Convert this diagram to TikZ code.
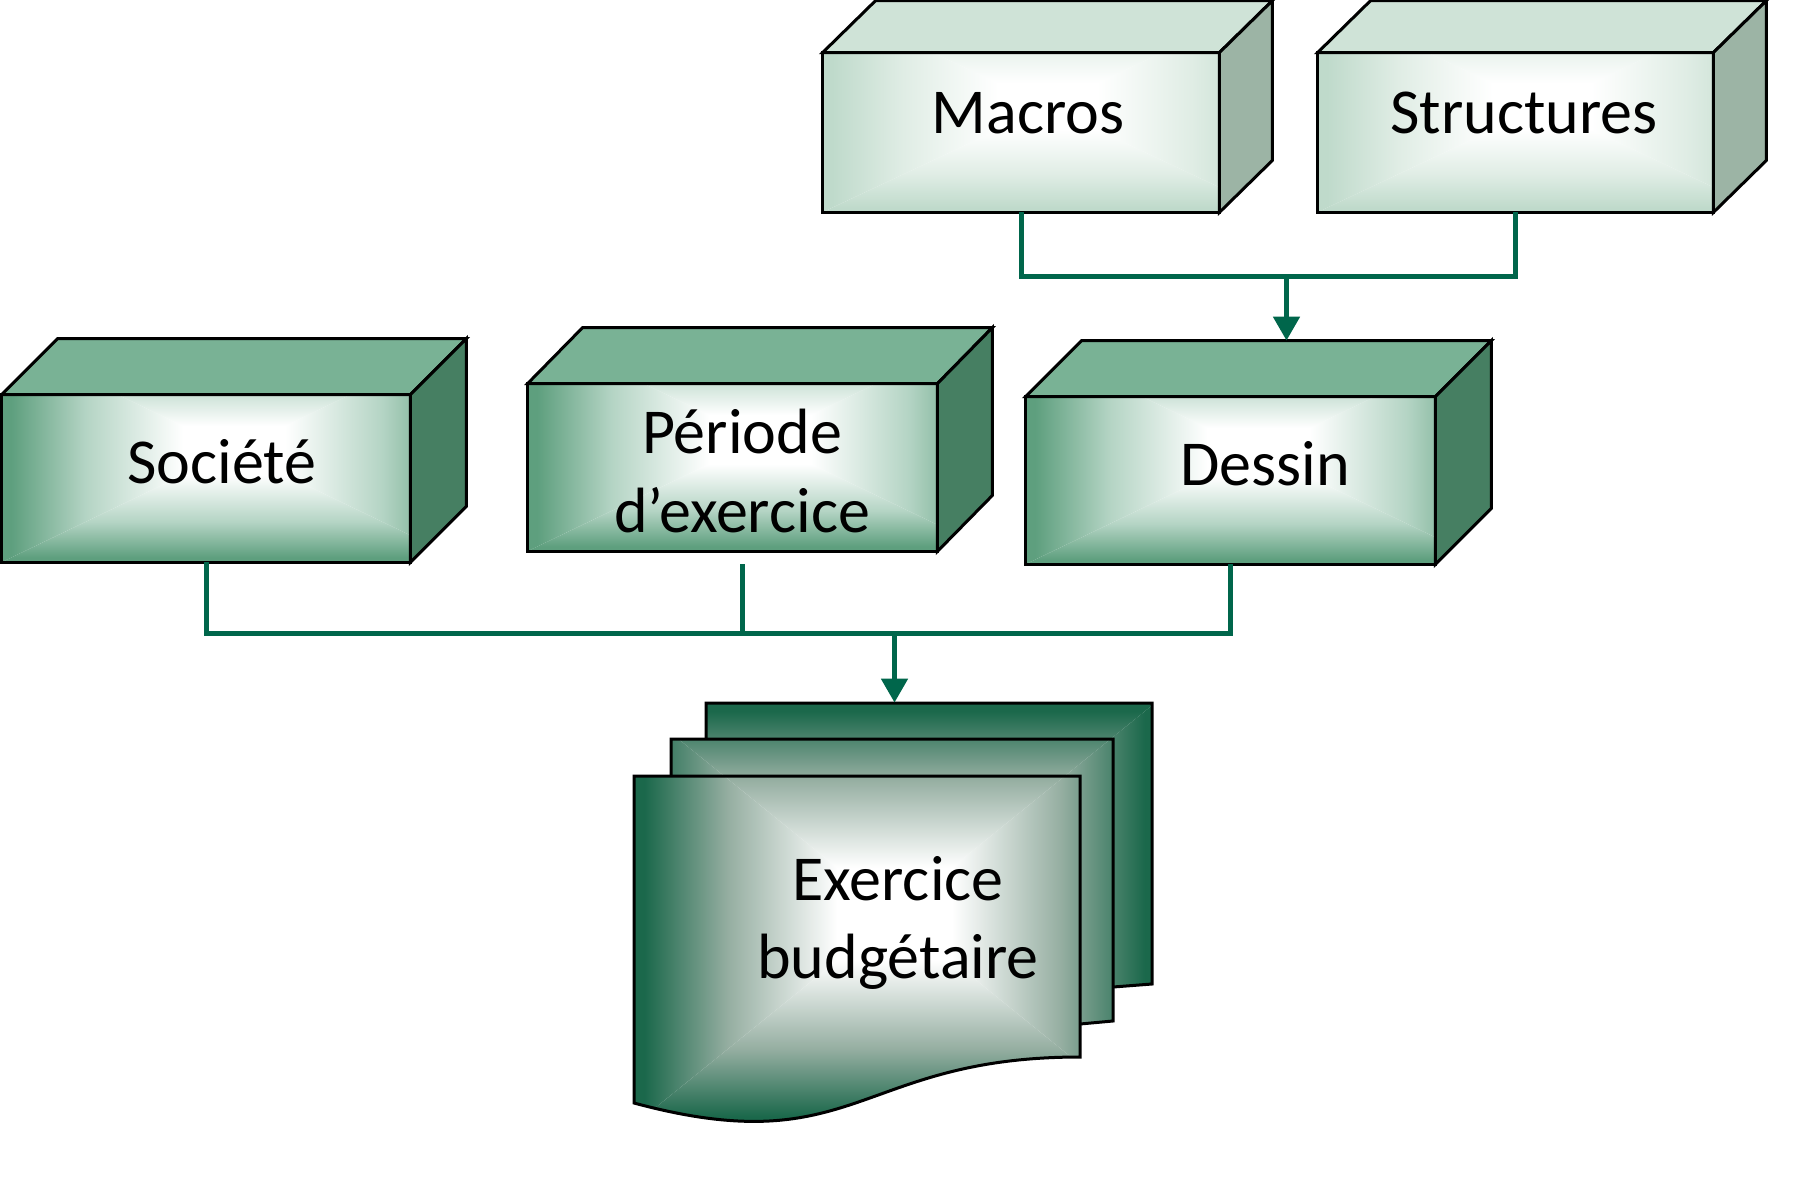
\documentclass[tikz,border=0pt]{standalone}
\usepackage{fontspec}
\setmainfont{Carlito}
\usetikzlibrary{arrows.meta,fit}
\definecolor{gE}{HTML}{5E9F7E}
\definecolor{gM}{HTML}{B4D4C4}
\definecolor{gC}{HTML}{FFFFFF}
\definecolor{topc}{HTML}{79B295}
\definecolor{sidec}{HTML}{467F62}
\definecolor{connc}{HTML}{00664B}
\pgfdeclarehorizontalshading[gE,gM,gC]{gradL}{100bp}{color(0bp)=(gE); color(27bp)=(gE); color(43bp)=(gM); color(64bp)=(gC); color(100bp)=(gC)}
\pgfdeclarehorizontalshading[gE,gM,gC]{gradR}{100bp}{color(0bp)=(gC); color(36bp)=(gC); color(57bp)=(gM); color(73bp)=(gE); color(100bp)=(gE)}
\pgfdeclareverticalshading[gE,gM,gC]{gradB}{100bp}{color(0bp)=(gE); color(27bp)=(gE); color(43bp)=(gM); color(64bp)=(gC); color(100bp)=(gC)}
\pgfdeclareverticalshading[gE,gM,gC]{gradT}{100bp}{color(0bp)=(gC); color(36bp)=(gC); color(57bp)=(gM); color(73bp)=(gE); color(100bp)=(gE)}
% gradient over bounding rectangle X0 Y0 X1 Y1
\newcommand\gradfill[4]{%
  \fill[gC] (#1,#2) rectangle (#3,#4);
  \coordinate (gc) at ({(#1+#3)/2},{(#2+#4)/2});
  \shade[shading=gradL] (#1,#2) -- (gc) -- (#1,#4) -- cycle;
  \shade[shading=gradR] (#3,#2) -- (gc) -- (#3,#4) -- cycle;
  \shade[shading=gradT] (#1,#2) -- (#3,#2) -- (gc) -- cycle;
  \shade[shading=gradB] (#1,#4) -- (#3,#4) -- (gc) -- cycle;
}
% cube: name, x0, y0, x1, y1, dx, dy
\newcommand\cubebox[7]{%
  \node[fit={(#2,#3) (#4,#5)}, inner sep=0pt] (#1) {};
  \node[fit={(#2+#6,#3-#7) (#4+#6,#5-#7)}, inner sep=0pt] (#1b) {};
  \begin{scope}
    \clip (#1.north west) rectangle (#1.south east);
    \gradfill{#2}{#3-#7}{#4+#6}{#5}
  \end{scope}
  \draw[edge] (#1.north west) rectangle (#1.south east);
  \filldraw[edge, fill=topc] (#1.north west) -- (#1b.north west) -- (#1b.north east) -- (#1.north east) -- cycle;
  \filldraw[edge, fill=sidec] (#1.north east) -- (#1b.north east) -- (#1b.south east) -- (#1.south east) -- cycle;
}
\begin{document}
\begin{tikzpicture}[x=0.5pt,y=-0.5pt,
  edge/.style={draw=black, line width=1.5pt, line join=miter},
  conn/.style={draw=connc, line width=2.5pt, line join=miter},
  arrowtip/.style={-{Triangle[width=13pt,length=12pt]}},
  lbl/.style={font=\fontsize{32}{39}\selectfont, text=black, inner sep=0pt, anchor=base}]
\useasboundingbox (0,0) rectangle (1800,1200);
\fill[white] (0,0) rectangle (1800,1200);

% light boxes
\definecolor{gE}{HTML}{BFDACB}
\definecolor{gM}{HTML}{E0EDE5}
\definecolor{topc}{HTML}{CFE3D7}
\definecolor{sidec}{HTML}{9CB4A5}
\cubebox{mac}{823}{53}{1219}{212}{53}{52}
\cubebox{str}{1318}{53}{1713}{212}{53}{52}

% medium boxes
\definecolor{gE}{HTML}{5E9F7E}
\definecolor{gM}{HTML}{B4D4C4}
\definecolor{topc}{HTML}{79B295}
\definecolor{sidec}{HTML}{467F62}
\cubebox{soc}{2}{395}{410}{562}{56}{56}
\cubebox{per}{528}{384}{937}{551}{55}{56}
\cubebox{des}{1026}{397}{1435}{564}{56}{56}

% documents
\definecolor{gE}{HTML}{1B684B}
\definecolor{gM}{HTML}{95AEA1}
\node[fit={(634,703) (1155,1125)}, inner sep=0pt] (doc) {};
\begin{scope}
  \clip (706,703) -- (1152,703) -- (1152,984) -- (1113,987) -- (706,990) -- cycle;
  \gradfill{634}{703}{1155}{1125}
\end{scope}
\draw[edge] (706,703) -- (1152,703) -- (1152,984) -- (1113,987) -- (706,990) -- cycle;
\begin{scope}
  \clip (671,739) -- (1113,739) -- (1113,1021) -- (1080,1024) -- (671,1030) -- cycle;
  \gradfill{634}{703}{1155}{1125}
\end{scope}
\draw[edge] (671,739) -- (1113,739) -- (1113,1021) -- (1080,1024) -- (671,1030) -- cycle;
\begin{scope}
  \clip (634,776) -- (1080,776) -- (1080,1057) .. controls (857,1057) and (857,1163) .. (634,1103) -- cycle;
  \gradfill{634}{703}{1155}{1125}
\end{scope}
\draw[edge] (634,776) -- (1080,776) -- (1080,1057) .. controls (857,1057) and (857,1163) .. (634,1103) -- cycle;

% labels
\node[lbl] (macT) at (1028,133) {Macros};
\node[lbl] (strT) at (1524,133) {Structures};
\node[lbl] (socT) at (222,483) {Société};
\node[lbl] (perT1) at (742,453) {Période};
\node[lbl] (perT2) at (742,532) {d’exercice};
\node[lbl] (desT) at (1265,485) {Dessin};
\node[lbl] (docT1) at (898,900) {Exercice};
\node[lbl] (docT2) at (898,978) {budgétaire};

% connectors
\coordinate (hy1) at (0,276);
\coordinate (hy2) at (0,633);
\draw[conn] (mac.south) -- (mac.south |- hy1) -- (str.south |- hy1) -- (str.south);
\draw[conn, arrowtip] (desb.north |- hy1) -- (desb.north);
\draw[conn] (soc.south) -- (soc.south |- hy2) -- (des.south |- hy2) -- (des.south);
\coordinate (pout) at ([xshift=5pt,yshift=-6.5pt]per.south);
\draw[conn] (pout) -- ([yshift=-1pt]pout |- hy2);
\draw[conn, arrowtip] (doc.north |- hy2) -- (doc.north);
\end{tikzpicture}
\end{document}
